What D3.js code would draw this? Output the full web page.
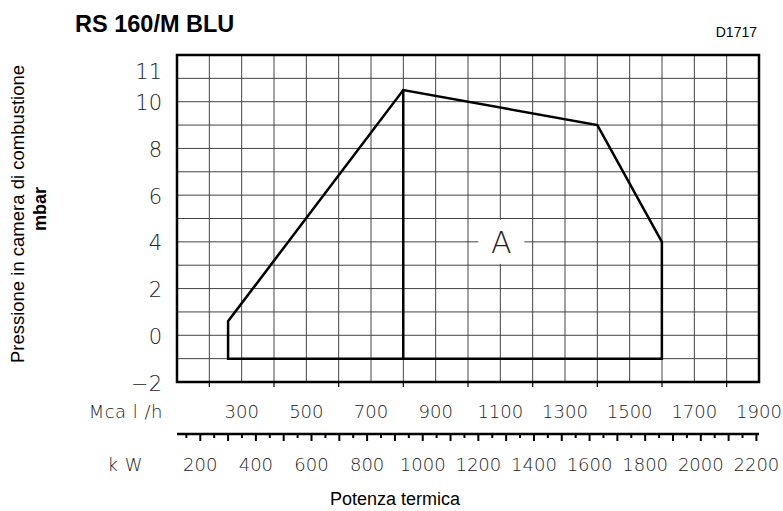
<!DOCTYPE html>
<html>
<head>
<meta charset="utf-8">
<script src="https://cdn.jsdelivr.net/npm/d3@7"></script>
<style>
  body { margin: 0; background: #fff; }
  .thin { font-family: "DejaVu Sans", sans-serif; font-weight: 200; fill: #222; }
  .sans { font-family: "Liberation Sans", Arial, sans-serif; fill: #000; }
</style>
</head>
<body>
<svg id="chart"></svg>
<script>
var width = 783;
var height = 511;

// working area polygon, kW vs mbar
var areaKw = [300, 300, 930, 1628, 1860, 1860];
var areaMbar = [-1, 0.6, 10.5, 9, 4, -1];

var yTicks = [-2, 0, 2, 4, 6, 8, 10, 11];
var mcalLabels = [300, 500, 700, 900, 1100, 1300, 1500, 1700, 1900];
var mcalTicks = [200, 400, 600, 800, 1000, 1200, 1400, 1600, 1800];
var kwLabels = [200, 400, 600, 800, 1000, 1200, 1400, 1600, 1800, 2000, 2200];

var svg = d3.select("#chart").attr("width", width).attr("height", height);

var xM = d3.scaleLinear().domain([100, 1900]).range([177, 759]);
var xK = d3.scaleLinear().domain([100 / 0.86, 1900 / 0.86]).range([177, 759]);
var y = d3.scaleLinear().domain([-2, 12]).range([382, 55]);

// grid
svg.append("g")
  .selectAll("line")
  .data(d3.range(200, 1900, 100))
  .enter()
  .append("line")
  .attr("x1", function (d) { return xM(d); })
  .attr("x2", function (d) { return xM(d); })
  .attr("y1", y(12))
  .attr("y2", y(-2))
  .attr("stroke", "#444")
  .attr("stroke-width", 1);

svg.append("g")
  .selectAll("line")
  .data(d3.range(-1, 12, 1))
  .enter()
  .append("line")
  .attr("x1", xM(100))
  .attr("x2", xM(1900))
  .attr("y1", function (d) { return y(d); })
  .attr("y2", function (d) { return y(d); })
  .attr("stroke", "#444")
  .attr("stroke-width", 1);

// label A with white box
svg.append("rect")
  .attr("x", xM(1100) - 22)
  .attr("y", y(4) - 22)
  .attr("width", 46)
  .attr("height", 44)
  .attr("fill", "#fff");
svg.append("text")
  .attr("class", "thin")
  .attr("x", xM(1100) + 1)
  .attr("y", y(4) + 11)
  .attr("text-anchor", "middle")
  .style("font-size", "30px")
  .style("font-weight", "100")
  .text("A");

// polygon
var line = d3.line()
  .x(function (d) { return xK(d[0]); })
  .y(function (d) { return y(d[1]); });
var pts = areaKw.map(function (k, i) { return [k, areaMbar[i]]; });
svg.append("path")
  .attr("d", line(pts) + "Z")
  .attr("fill", "none")
  .attr("stroke", "#000")
  .attr("stroke-width", 2.5)
  .attr("stroke-linejoin", "miter");
svg.append("path")
  .attr("d", line([[areaKw[2], areaMbar[2]], [areaKw[2], -1]]))
  .attr("fill", "none")
  .attr("stroke", "#000")
  .attr("stroke-width", 2.5);

// frame
svg.append("rect")
  .attr("x", xM(100))
  .attr("y", y(12))
  .attr("width", xM(1900) - xM(100))
  .attr("height", y(-2) - y(12))
  .attr("fill", "none")
  .attr("stroke", "#000")
  .attr("stroke-width", 2.5);

// y labels
svg.append("g")
  .selectAll("text")
  .data(yTicks)
  .enter()
  .append("text")
  .attr("class", "thin")
  .attr("x", 162)
  .attr("y", function (d) { return y(d) + (d === 11 ? -7 : 1); })
  .attr("dy", "0.36em")
  .attr("text-anchor", "end")
  .style("font-size", "21px")
  .text(function (d) { return d < 0 ? "\u2212" + Math.abs(d) : d; });

// Mcal/h ticks below frame
svg.append("g")
  .selectAll("line")
  .data(mcalTicks)
  .enter()
  .append("line")
  .attr("x1", function (d) { return xM(d); })
  .attr("x2", function (d) { return xM(d); })
  .attr("y1", y(-2))
  .attr("y2", y(-2) + 5)
  .attr("stroke", "#000")
  .attr("stroke-width", 1.2);

svg.append("g")
  .selectAll("text")
  .data(mcalLabels)
  .enter()
  .append("text")
  .attr("class", "thin")
  .attr("x", function (d) { return xM(d); })
  .attr("y", 412)
  .attr("dy", "0.36em")
  .attr("text-anchor", "middle")
  .style("font-size", "18px")
  .text(function (d) { return d; });

svg.append("text")
  .attr("class", "thin")
  .attr("x", 163)
  .attr("y", 412)
  .attr("dy", "0.36em")
  .attr("text-anchor", "end")
  .style("font-size", "18px")
  .style("letter-spacing", "0.5px")
  .text("Mca l /h");

// kW axis
var kwAxisY = 434;
svg.append("line")
  .attr("x1", xM(100))
  .attr("x2", xM(1900))
  .attr("y1", kwAxisY)
  .attr("y2", kwAxisY)
  .attr("stroke", "#000")
  .attr("stroke-width", 2.5);

svg.append("g")
  .selectAll("line")
  .data(d3.range(150, 2201, 50))
  .enter()
  .append("line")
  .attr("x1", function (d) { return xK(d); })
  .attr("x2", function (d) { return xK(d); })
  .attr("y1", kwAxisY)
  .attr("y2", function (d) { return kwAxisY + (d % 100 === 0 ? 7 : 4); })
  .attr("stroke", "#000")
  .attr("stroke-width", 2);

svg.append("g")
  .selectAll("text")
  .data(kwLabels)
  .enter()
  .append("text")
  .attr("class", "thin")
  .attr("x", function (d) { return xK(d); })
  .attr("y", 465)
  .attr("dy", "0.36em")
  .attr("text-anchor", "middle")
  .style("font-size", "18px")
  .text(function (d) { return d; });

svg.append("text")
  .attr("class", "thin")
  .attr("x", 143)
  .attr("y", 465)
  .attr("dy", "0.36em")
  .attr("text-anchor", "end")
  .style("font-size", "18px")
  .style("letter-spacing", "0.5px")
  .text("k W");

// titles
svg.append("text")
  .attr("class", "sans")
  .attr("x", 75)
  .attr("y", 32)
  .style("font-size", "23.5px")
  .style("font-weight", "bold")
  .text("RS 160/M BLU");

svg.append("text")
  .attr("class", "sans")
  .attr("x", 757)
  .attr("y", 37)
  .attr("text-anchor", "end")
  .style("font-size", "14px")
  .text("D1717");

svg.append("text")
  .attr("class", "sans")
  .attr("x", 395)
  .attr("y", 505)
  .attr("text-anchor", "middle")
  .style("font-size", "18px")
  .text("Potenza termica");

svg.append("text")
  .attr("class", "sans")
  .attr("transform", "translate(24,214) rotate(-90)")
  .attr("text-anchor", "middle")
  .style("font-size", "18.5px")
  .text("Pressione in camera di combustione");

svg.append("text")
  .attr("class", "sans")
  .attr("transform", "translate(46,209) rotate(-90)")
  .attr("text-anchor", "middle")
  .style("font-size", "18px")
  .style("font-weight", "bold")
  .text("mbar");
</script>
</body>
</html>
